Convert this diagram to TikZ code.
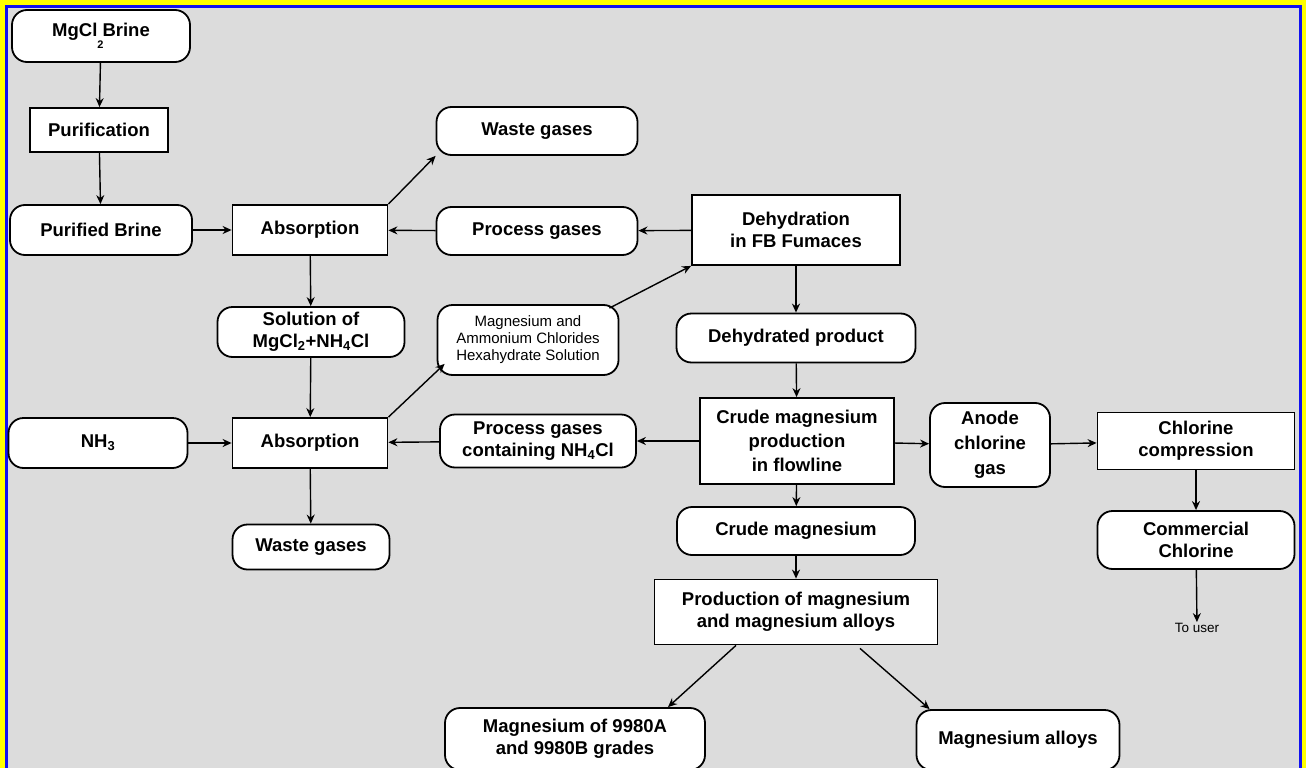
\documentclass[tikz,border=0pt]{standalone}
\usepackage{fontspec}
\setmainfont{Liberation Sans}
\usetikzlibrary{arrows.meta}
\definecolor{bg}{HTML}{DCDCDC}
\definecolor{frameblue}{HTML}{1010F0}
\definecolor{frameyellow}{HTML}{FFFF00}
\tikzset{
  base/.style={draw=black, line width=1.8pt, fill=white, align=center, inner sep=2pt,
    font=\fontsize{18.5}{22}\selectfont\bfseries},
  rbox/.style={base, rounded corners=15pt},
  sbox/.style={base},
  conn/.style={line width=1.4pt, -{Stealth[length=9pt,width=8pt]}},
}
\begin{document}
\begin{tikzpicture}[x=1pt,y=-1pt]
\useasboundingbox (0,0) rectangle (1306,768);
\fill[frameyellow] (0,0) rectangle (1306,768);
\fill[frameblue] (4.5,5) rectangle (1302,772);
\fill[bg] (8,8.5) rectangle (1299,772);

\node[rbox, minimum width=178pt, minimum height=52pt] (brine) at (101,36)
  {MgCl\rlap{\raisebox{-1.2ex}{\fontsize{11}{11}\selectfont 2}} Brine};
\node[sbox, minimum width=138pt, minimum height=44pt] (purif) at (99,130) {Purification};
\node[rbox, minimum width=182pt, minimum height=50pt] (pbrine) at (101,230) {Purified Brine};
\node[sbox, minimum width=155pt, minimum height=50pt] (abs1) at (310,230) {Absorption};
\node[rbox, minimum width=201pt, minimum height=48pt] (waste1) at (537,131) {Waste gases};
\node[rbox, minimum width=201pt, minimum height=48pt] (pgas) at (537,231) {Process gases};
\node[sbox, minimum width=208pt, minimum height=70pt] (dehyd) at (796,230) {Dehydration\\in FB Fumaces};
\node[rbox, minimum width=187pt, minimum height=50pt] (sol) at (311,332)
  {Solution of\\MgCl\textsubscript{2}+NH\textsubscript{4}Cl};
\node[rbox, minimum width=181pt, minimum height=70pt, font=\fontsize{15}{17}\selectfont] (mac) at (528,340)
  {Magnesium and\\Ammonium Chlorides\\Hexahydrate Solution};
\node[rbox, minimum width=239pt, minimum height=49pt] (dprod) at (796,338) {Dehydrated product};
\node[rbox, minimum width=179pt, minimum height=50pt] (nh3) at (98,443) {NH\textsubscript{3}};
\node[sbox, minimum width=155pt, minimum height=50pt] (abs2) at (310,443) {Absorption};
\node[rbox, minimum width=196pt, minimum height=53pt] (pgas2) at (538,441)
  {Process gases\\containing NH\textsubscript{4}Cl};
\node[sbox, minimum width=194pt, minimum height=86pt, font=\fontsize{18.5}{24}\selectfont\bfseries] (crude) at (797,441)
  {Crude magnesium\\production\\in flowline};
\node[rbox, minimum width=120pt, minimum height=84pt, font=\fontsize{18.5}{25}\selectfont\bfseries] (anode) at (990,445) {Anode\\chlorine\\gas};
\node[sbox, minimum width=197pt, minimum height=57pt] (ccomp) at (1196,441) {Chlorine\\compression};
\node[rbox, minimum width=197pt, minimum height=58pt] (cchl) at (1196,540) {Commercial\\Chlorine};
\node[font=\fontsize{13.5}{15}\selectfont, inner sep=1pt] (user) at (1197,628) {To user};
\node[rbox, minimum width=157pt, minimum height=45pt] (waste2) at (311,547) {Waste gases};
\node[rbox, minimum width=238pt, minimum height=48pt] (cmag) at (796,531) {Crude magnesium};
\node[sbox, minimum width=283pt, minimum height=65pt] (prod) at (796,612)
  {Production of magnesium\\and magnesium alloys};
\node[rbox, minimum width=260pt, minimum height=62pt] (grades) at (575,739)
  {Magnesium of 9980A\\and 9980B grades};
\node[rbox, minimum width=203pt, minimum height=60pt] (alloys) at (1018,740) {Magnesium alloys};

\draw[conn] (brine) -- (purif);
\draw[conn] (purif) -- (pbrine);
\draw[conn] (pbrine) -- (abs1);
\draw[conn] (abs1.north east) -- (waste1.south west);
\draw[conn] (pgas) -- (abs1);
\draw[conn] (dehyd) -- (pgas);
\draw[conn] (abs1) -- (sol);
\draw[conn] (sol) -- (abs2);
\draw[conn] (nh3) -- (abs2);
\draw[conn] (abs2.north east) -- ([xshift=8pt,yshift=12pt]mac.south west);
\draw[conn] ([xshift=-10pt,yshift=-4pt]mac.north east) -- (dehyd.south west);
\draw[conn] (pgas2) -- (abs2);
\draw[conn] (crude) -- (pgas2);
\draw[conn] (dehyd) -- (dprod);
\draw[conn] (dprod) -- (crude);
\draw[conn] (crude) -- (anode);
\draw[conn] (anode) -- (ccomp);
\draw[conn] (ccomp) -- (cchl);
\draw[conn] (cchl) -- (user);
\draw[conn] (abs2) -- (waste2);
\draw[conn] (crude) -- (cmag);
\draw[conn] (cmag) -- (prod);
\coordinate (pa) at ([xshift=-60pt]prod.south);
\coordinate (pb) at ([xshift=64pt,yshift=-3pt]prod.south);
\coordinate (ga) at ([xshift=93pt]grades.north);
\coordinate (aa) at ([xshift=14pt]alloys.north west);
\draw[conn] (pa) -- (ga);
\draw[conn] (pb) -- (aa);
\end{tikzpicture}
\end{document}
